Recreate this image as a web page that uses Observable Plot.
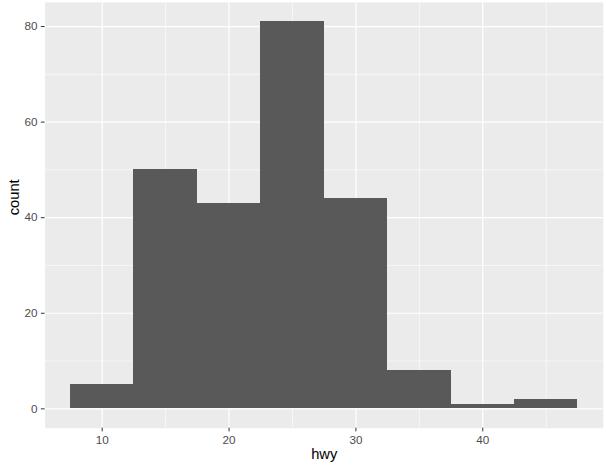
<!DOCTYPE html>
<html>
<head>
<meta charset="utf-8">
<script src="https://cdn.jsdelivr.net/npm/d3@7"></script>
<script src="https://cdn.jsdelivr.net/npm/@observablehq/plot@0.6"></script>
<style>
  html, body { margin: 0; padding: 0; background: #ffffff; }
  #chart svg { display: block; }
</style>
</head>
<body>
<div id="chart"></div>
<script>
const binLo = [7.5, 12.5, 17.5, 22.5, 27.5, 32.5, 37.5, 42.5];
const binHi = [12.5, 17.5, 22.5, 27.5, 32.5, 37.5, 42.5, 47.5];
const counts = [5, 50, 43, 81, 44, 8, 1, 2];
const xTicks = [10, 20, 30, 40];
const xMinor = [15, 25, 35, 45];
const yTicks = [0, 20, 40, 60, 80];
const yMinor = [10, 30, 50, 70];
const xTitle = "hwy";
const yTitle = "count";

const bins = counts.map((c, i) => ({lo: binLo[i], hi: binHi[i], count: c}));
const font = "'Liberation Sans', Arial, sans-serif";

const chart = Plot.plot({
  width: 606,
  height: 471,
  marginLeft: 44.6,
  marginRight: 3.2,
  marginTop: 1.9,
  marginBottom: 43.3,
  style: {fontFamily: font, background: "#ffffff"},
  x: {domain: [5.5, 49.5]},
  y: {domain: [-4.05, 85.05]},
  marks: [
    Plot.frame({fill: "#EBEBEB", stroke: null}),
    Plot.ruleX(xMinor, {stroke: "#ffffff", strokeWidth: 0.6}),
    Plot.ruleY(yMinor, {stroke: "#ffffff", strokeWidth: 0.6}),
    Plot.ruleX(xTicks, {stroke: "#ffffff", strokeWidth: 1.2}),
    Plot.ruleY(yTicks, {stroke: "#ffffff", strokeWidth: 1.2}),
    Plot.rectY(bins, {x1: "lo", x2: "hi", y1: 0, y2: "count", fill: "#595959", inset: 0, shapeRendering: "crispEdges"}),
    Plot.axisX({ticks: xTicks, tickSize: 3.7, tickPadding: 3.5, stroke: "#333333", fill: "#4D4D4D", fontSize: 11.7, label: null, tickFormat: d => String(d)}),
    Plot.axisY({ticks: yTicks, tickSize: 3.7, tickPadding: 4, stroke: "#333333", fill: "#4D4D4D", fontSize: 11.7, label: null, tickFormat: d => String(d)}),
    Plot.text([xTitle], {frameAnchor: "bottom", dy: 30.5, text: d => d, fontSize: 14.7, fill: "#000000"}),
    Plot.text([yTitle], {frameAnchor: "left", dx: -31, rotate: -90, text: d => d, fontSize: 14.7, fill: "#000000"})
  ]
});
document.getElementById("chart").appendChild(chart);
</script>
</body>
</html>
